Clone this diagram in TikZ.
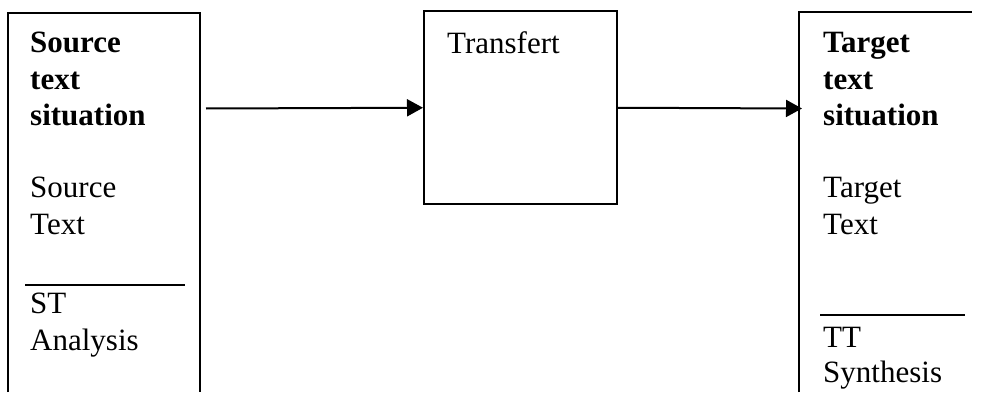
\documentclass[tikz,border=0pt]{standalone}
\usepackage{fontspec}
\setmainfont{Liberation Serif}
\usetikzlibrary{arrows.meta}
\begin{document}
\begin{tikzpicture}[x=1pt,y=1pt,
  txt/.style={anchor=base west,inner sep=0pt,font=\fontsize{31}{36}\selectfont},
  btxt/.style={txt,font=\fontsize{31}{36}\selectfont\bfseries},
  frame/.style={line width=2pt},
  conn/.style={line width=2pt,-{Triangle[length=16pt,width=17pt]}},
  rule/.style={line width=1.6pt}]
\useasboundingbox (0,0) rectangle (983,392);
% left box (open at bottom)
\draw[frame] (8,0) -- (8,379) -- (200,379) -- (200,0);
\coordinate (lstart) at (206,283.5);
% middle box
\node[draw,frame,minimum width=193pt,minimum height=192.5pt,inner sep=0pt,anchor=south west] (mid) at (423,187) {};
% right box
\draw[frame] (799,0) -- (799,380) -- (972,380);
\coordinate (rl) at (802,283.5);
% texts left
\node[btxt] (s1) at (30,339) {Source};
\node[btxt] (s2) at (30,302.8) {text};
\node[btxt] (s3) at (30,266.6) {situation};
\node[txt] (s4) at (30,194.2) {Source};
\node[txt] (s5) at (30,158) {Text};
\coordinate (la) at (25,107);
\coordinate (lb) at (185,107);
\draw[rule] (la) -- (lb);
\node[txt] (s6) at (30,79) {ST};
\node[txt] (s7) at (30,42) {Analysis};
% middle text
\node[txt] (tr) at (447,338) {Transfert};
% texts right
\node[btxt] (t1) at (823,339) {Target};
\node[btxt] (t2) at (823,302.8) {text};
\node[btxt] (t3) at (823,266.6) {situation};
\node[txt] (t4) at (823,194.2) {Target};
\node[txt] (t5) at (823,158) {Text};
\coordinate (ra) at (820,77);
\coordinate (rb) at (965,77);
\draw[rule] (ra) -- (rb);
\node[txt] (t6) at (823,45) {TT};
\node[txt] (t7) at (823,10) {Synthesis};
% connectors
\draw[conn] (lstart) -- (mid.west);
\draw[conn] (mid.east) -- (rl);
\end{tikzpicture}
\end{document}
